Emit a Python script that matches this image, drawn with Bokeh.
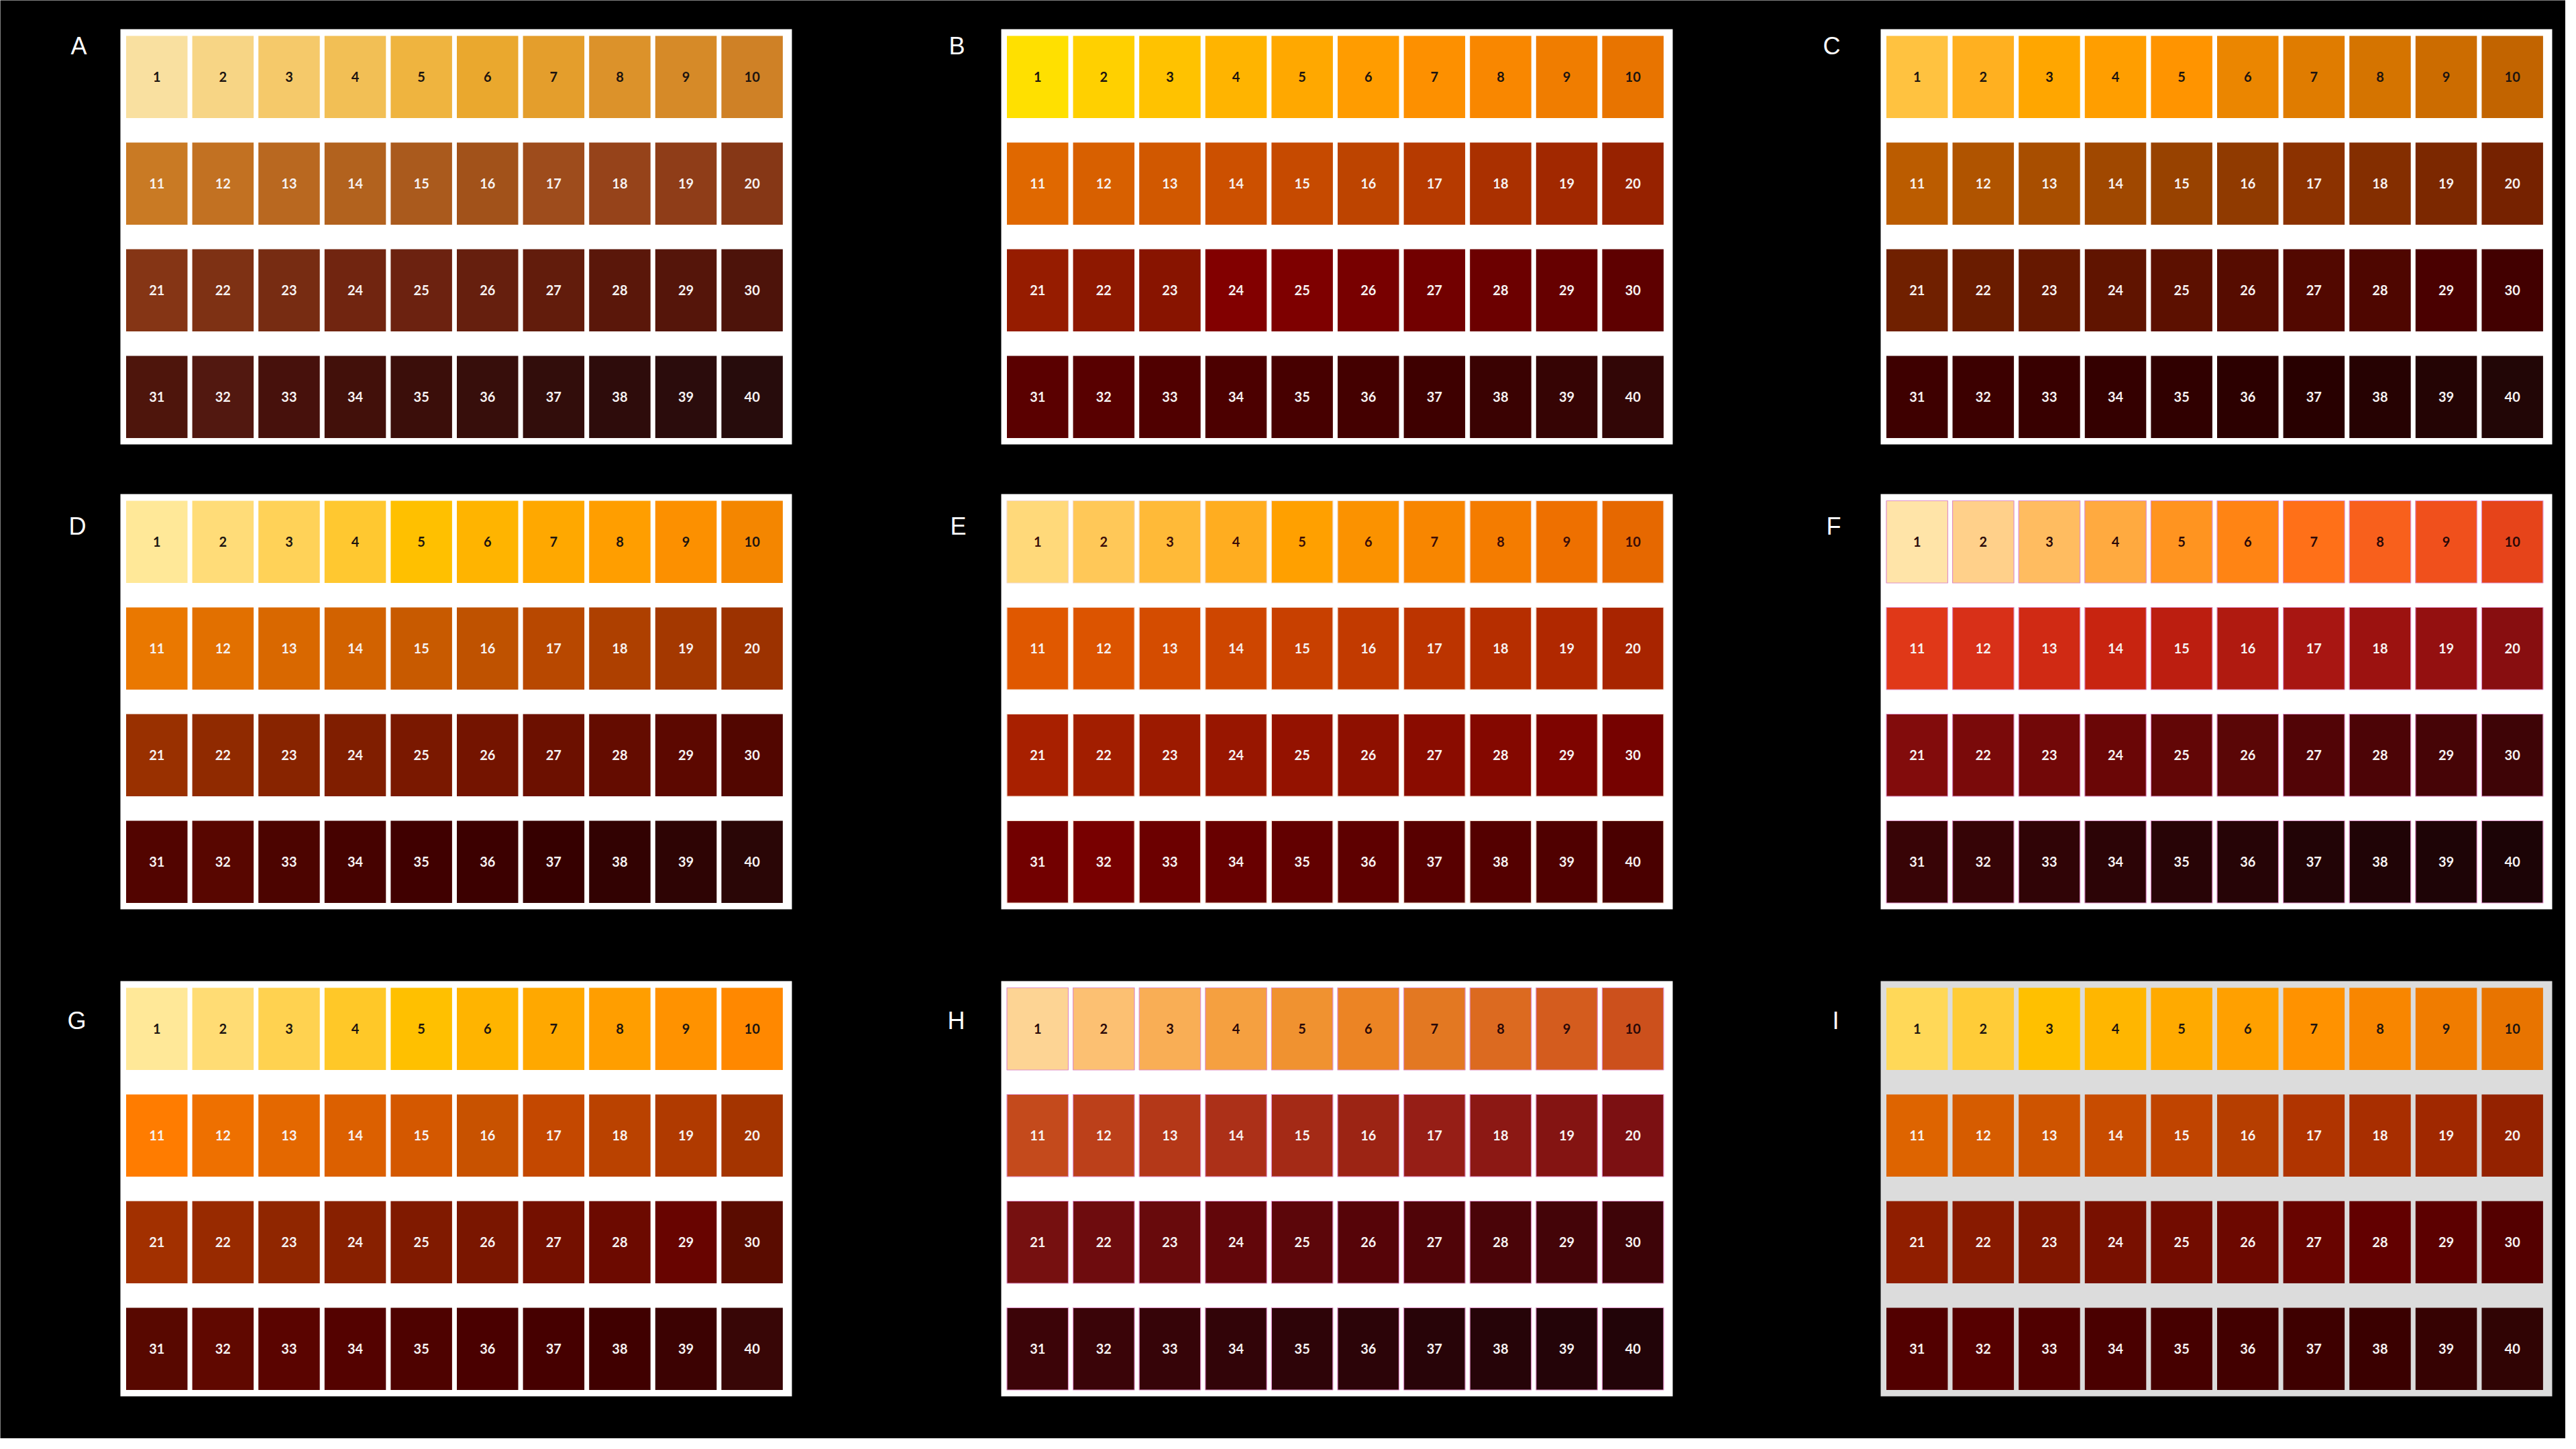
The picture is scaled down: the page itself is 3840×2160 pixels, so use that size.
import numpy as np
from bokeh.plotting import figure
from bokeh.models import Range1d
from bokeh.core.properties import value
from bokeh.embed import file_html
from bokeh.resources import INLINE

# ---------------- data ----------------
panel_labels = ["A", "B", "C", "D", "E", "F", "G", "H", "I"]
swatch_numbers = [str(i) for i in range(1, 41)]

colors_A = ["#f9e0a0", "#f7d585", "#f5c96a", "#f2bf55", "#efb43f", "#eaa82e", "#e49e2c", "#dc922a", "#d68a28", "#cf8126",
            "#c97a24", "#c27122", "#b96820", "#b2621e", "#aa5a1d", "#a2521a", "#9e4c1c", "#96431a", "#8f3d18", "#863716",
            "#853515", "#7e3114", "#772c12", "#712510", "#6c2210", "#661f0e", "#621c0c", "#5a170a", "#55150a", "#4d130a",
            "#4e150c", "#521810", "#47110c", "#42100a", "#3b0e0a", "#370e0b", "#320d0b", "#2e0c0b", "#2b0c0c", "#270c0c"]
colors_B = ["#ffe000", "#ffd000", "#ffc200", "#ffb400", "#ffa800", "#ff9c00", "#fd9000", "#f98700", "#f07d00", "#e87400",
            "#e06800", "#d86000", "#d15800", "#cc5000", "#c64a00", "#bd4400", "#b63a00", "#aa3000", "#a12800", "#972200",
            "#961c00", "#8e1800", "#881400", "#820000", "#7e0000", "#780000", "#720000", "#6c0000", "#660000", "#5e0000",
            "#5a0000", "#580000", "#500000", "#4c0000", "#470000", "#440000", "#3e0000", "#3a0202", "#360404", "#320606"]
colors_C = ["#ffc240", "#ffb020", "#ffa600", "#ff9e00", "#ff9400", "#eb8600", "#e07c00", "#d57400", "#cc6c00", "#c26400",
            "#bb5c00", "#b05400", "#a84e00", "#a04800", "#984200", "#903a00", "#8c3200", "#842e00", "#7c2800", "#762200",
            "#702000", "#6a1c00", "#661800", "#601400", "#5c1000", "#560c00", "#520800", "#4e0600", "#4a0000", "#420000",
            "#3e0000", "#3c0000", "#380000", "#340000", "#300000", "#2c0000", "#280000", "#260202", "#240404", "#220606"]
colors_D = ["#ffe898", "#ffdc78", "#ffd258", "#ffc830", "#ffc000", "#ffb400", "#ffa800", "#ff9e00", "#fc9000", "#f48600",
            "#ea7800", "#e27000", "#d96800", "#d26200", "#c85a00", "#bf5200", "#b84800", "#ae4000", "#a43800", "#9c3200",
            "#993000", "#902a00", "#882400", "#801e00", "#7a1800", "#741400", "#6c1000", "#640c00", "#5c0800", "#520600",
            "#520400", "#580600", "#4c0400", "#460200", "#400000", "#3c0000", "#360000", "#320202", "#2e0404", "#2a0606"]
colors_E = ["#ffd97a", "#ffc858", "#ffba38", "#ffad20", "#ffa000", "#fb9200", "#f88600", "#f47c00", "#ee7000", "#e66800",
            "#e05800", "#dc5400", "#d44c00", "#ce4600", "#c84000", "#c23a00", "#bc3400", "#b62e00", "#b02800", "#a82400",
            "#a82000", "#a21e00", "#9c1a00", "#981600", "#941200", "#8e1000", "#8a0c00", "#840800", "#7e0400", "#760200",
            "#720000", "#780000", "#6c0000", "#680000", "#620000", "#5e0000", "#580000", "#540000", "#500000", "#4a0000"]
colors_F = ["#ffe4a8", "#ffd08a", "#ffbc60", "#ffaa40", "#ff9420", "#ff8414", "#ff7018", "#f8601c", "#f0501c", "#e6441a",
            "#e03818", "#d83018", "#d02a14", "#c82410", "#bc1e10", "#b01a10", "#a81612", "#9c1210", "#941010", "#880e10",
            "#820c0c", "#7a0a0a", "#720808", "#6a0606", "#620606", "#5a0606", "#520406", "#4c0406", "#460406", "#3e0406",
            "#380406", "#360406", "#300406", "#2c0406", "#280406", "#260406", "#220406", "#200406", "#1e0406", "#1c0406"]
colors_G = ["#ffe898", "#ffdc74", "#ffd250", "#ffc828", "#ffc000", "#ffb400", "#ffa800", "#ff9e00", "#ff9200", "#ff8800",
            "#ff7c00", "#ee7000", "#e46800", "#dc6000", "#d45800", "#c85200", "#c44800", "#ba4200", "#b03a00", "#a43400",
            "#a23000", "#982a00", "#902600", "#882000", "#801a00", "#7a1600", "#741000", "#6c0a00", "#680400", "#5a0c00",
            "#580800", "#600800", "#5a0400", "#540200", "#4e0200", "#4a0000", "#460000", "#400000", "#3c0202", "#380606"]
colors_H = ["#fdd494", "#fcc072", "#f9ae55", "#f5a040", "#f09230", "#ec8424", "#e37822", "#dc6a20", "#d45c1e", "#cc501c",
            "#c44a1c", "#bc401a", "#b43818", "#ac3018", "#a42a16", "#9c2414", "#961e16", "#8c1814", "#841412", "#7c1012",
            "#761010", "#6e0c0e", "#680a0c", "#62060a", "#5c060a", "#560408", "#500408", "#4a0408", "#440408", "#3e0408",
            "#3c0408", "#3a0408", "#360408", "#320408", "#2e0408", "#2c0408", "#280408", "#260408", "#240408", "#220408"]
colors_I = ["#ffd858", "#ffcc38", "#ffc000", "#ffb600", "#ffaa00", "#ffa000", "#ff9200", "#f88600", "#f07c00", "#e87400",
            "#de6400", "#d65c00", "#ce5400", "#c84c00", "#c04400", "#b63e00", "#b03400", "#a82e00", "#a02800", "#942200",
            "#901e00", "#881a00", "#801600", "#781000", "#720c00", "#6c0800", "#680400", "#620000", "#5c0000", "#540000",
            "#520000", "#560000", "#500000", "#4a0000", "#460000", "#420000", "#3e0000", "#3a0000", "#360202", "#300404"]

panel_colors = [colors_A, colors_B, colors_C, colors_D, colors_E, colors_F, colors_G, colors_H, colors_I]
panel_backgrounds = ["#ffffff"] * 8 + ["#dcdcdc"]
first_row_text = ["#1c1410", "#1c1410", "#1c1410", "#1c1410", "#3a0c08", "#2a0808", "#1c1410", "#2a0808", "#1c1410"]
other_text = "#f6f2f2"
swatch_outline = [None, None, None, None, "#f4d8c8", "#e090c8", None, "#e090c8", None]

# ---------------- layout (pixels of the reference picture) ----------------
col_left = [179, 1492, 2803]
row_top = [43, 736, 1462]
panel_w, panel_h = 1001, 619
inset_x, inset_y = 8.5, 10
sw_w, sw_h = 91.5, 122.5
pitch_x, pitch_y = 98.6, 159.0
letter_x = [117, 1426, 2730, 115, 1428, 2733, 114, 1425, 2736]
letter_y = [68, 68, 68, 784, 784, 784, 1521, 1521, 1521]

W, H = 3824, 2144
p = figure(width=W, height=H, x_range=Range1d(0, W), y_range=Range1d(H, 0),
           x_axis_type=None, y_axis_type=None, output_backend="svg", toolbar_location=None,
           min_border=0, background_fill_color="#000000", border_fill_color="#000000",
           outline_line_color=None)
p.grid.visible = False

idx = np.arange(40)
cols = idx % 10
rows = idx // 10

for k in range(9):
    L = col_left[k % 3]
    T = row_top[k // 3]
    p.quad(left=[L], right=[L + panel_w], top=[T], bottom=[T + panel_h],
           fill_color=panel_backgrounds[k], line_color=None)
    xs = L + inset_x + sw_w / 2 + cols * pitch_x
    ys = T + inset_y + sw_h / 2 + rows * pitch_y
    p.rect(x=xs, y=ys, width=sw_w, height=sw_h, fill_color=panel_colors[k],
           line_color=swatch_outline[k], line_width=1.2)
    tcolors = [first_row_text[k] if r == 0 else other_text for r in rows]
    p.text(x=xs, y=ys, text=swatch_numbers, text_align="center", text_baseline="middle",
           text_font=value("Lato"), text_font_style="bold", text_font_size="20px",
           text_color=tcolors)

p.text(x=letter_x, y=letter_y, text=panel_labels, text_align="center", text_baseline="middle",
       text_font=value("Liberation Sans"), text_font_size="36px", text_color="#ffffff")

html = file_html(p, INLINE)
html = html.replace("<body>", '<body style="background-color:#000000;">', 1)
open("out.html", "w").write(html)
